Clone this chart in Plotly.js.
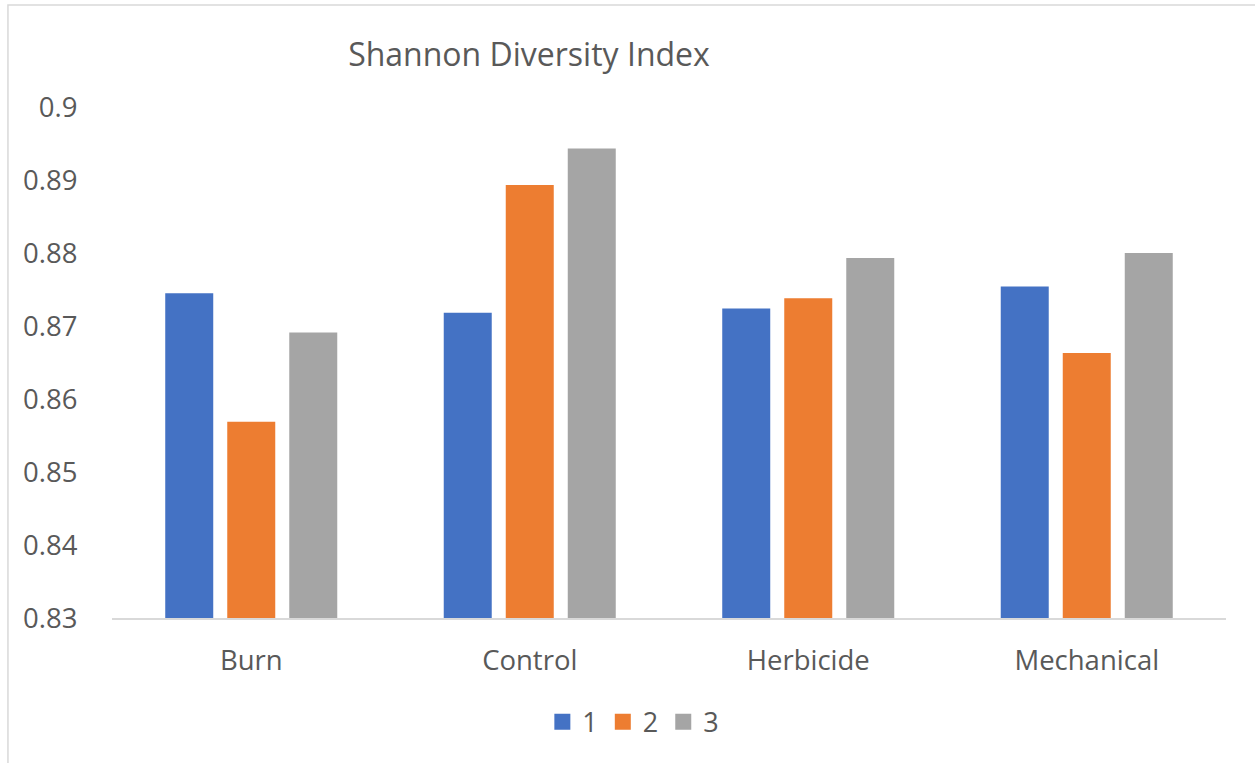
<!DOCTYPE html>
<html>
<head>
<meta charset="utf-8">
<script src="https://cdn.plot.ly/plotly-3.0.1.min.js"></script>
<style>html,body{margin:0;padding:0;background:#fff;}#chart{width:1255px;height:763px;}</style>
</head>
<body>
<div id="chart"></div>
<script>
const categories = ["Burn", "Control", "Herbicide", "Mechanical"];
const seriesNames = ["1", "2", "3"];
const series1 = [0.8745, 0.8718, 0.8724, 0.8754];
const series2 = [0.8569, 0.8893, 0.8738, 0.8663];
const series3 = [0.8691, 0.8943, 0.8793, 0.8800];
const yTicks = [0.83, 0.84, 0.85, 0.86, 0.87, 0.88, 0.89, 0.9];
const yTickText = ["0.83", "0.84", "0.85", "0.86", "0.87", "0.88", "0.89", "0.9"];
const colors = ["#4472C4", "#ED7D31", "#A5A5A5"];

const allSeries = [series1, series2, series3];
const barTraces = allSeries.map((vals, i) => ({
  type: "bar",
  name: seriesNames[i],
  legendgroup: "s" + i,
  showlegend: false,
  x: categories,
  y: vals,
  marker: {color: colors[i], line: {width: 0}},
  hoverinfo: "x+y+name"
}));
// legend-only entries (larger square swatches, as in the original)
const legendTraces = seriesNames.map((nm, i) => ({
  type: "scatter",
  mode: "markers",
  name: nm,
  legendgroup: "s" + i,
  x: [null],
  y: [null],
  marker: {symbol: "square", size: 16, color: colors[i]},
  hoverinfo: "skip"
}));

const font = "'Open Sans', 'Segoe UI', sans-serif";
const layout = {
  width: 1255, height: 763,
  margin: {l: 112, r: 29, t: 107, b: 144.5, pad: 0},
  paper_bgcolor: "#ffffff",
  plot_bgcolor: "#ffffff",
  font: {family: font, color: "#595959", size: 27},
  title: {
    text: "Shannon Diversity Index",
    font: {family: font, size: 32, color: "#595959"},
    xref: "container", yref: "container",
    x: 0.4215, xanchor: "center",
    y: 0.928, yanchor: "middle"
  },
  barmode: "group",
  bargap: 0.332,
  bargroupgap: 0.226,
  xaxis: {
    type: "category",
    categoryorder: "array",
    categoryarray: categories,
    showgrid: false,
    showline: true,
    linecolor: "#d9d9d9",
    linewidth: 1.5,
    ticks: "outside",
    ticklen: 17,
    tickcolor: "rgba(0,0,0,0)",
    tickfont: {family: font, size: 27.5, color: "#595959"},
    zeroline: false,
    fixedrange: true
  },
  yaxis: {
    range: [0.83, 0.9],
    tickvals: yTicks,
    ticktext: yTickText,
    showgrid: false,
    showline: false,
    zeroline: false,
    ticks: "outside",
    ticklen: 28,
    tickcolor: "rgba(0,0,0,0)",
    tickfont: {family: font, size: 27.5, color: "#595959"},
    fixedrange: true
  },
  showlegend: true,
  legend: {
    orientation: "h",
    x: 0.468, xanchor: "center",
    y: -0.204, yanchor: "middle",
    font: {family: font, size: 27, color: "#595959"},
    bgcolor: "rgba(0,0,0,0)",
    itemclick: false, itemdoubleclick: false
  },
  shapes: [{
    type: "rect", xref: "paper", yref: "paper",
    x0: -0.0934, x1: 1.2, y0: -0.6, y1: 1.1994,
    line: {color: "#d9d9d9", width: 1.5},
    fillcolor: "rgba(0,0,0,0)",
    layer: "below"
  }]
};

Plotly.newPlot("chart", barTraces.concat(legendTraces), layout, {displayModeBar: false});
</script>
</body>
</html>
